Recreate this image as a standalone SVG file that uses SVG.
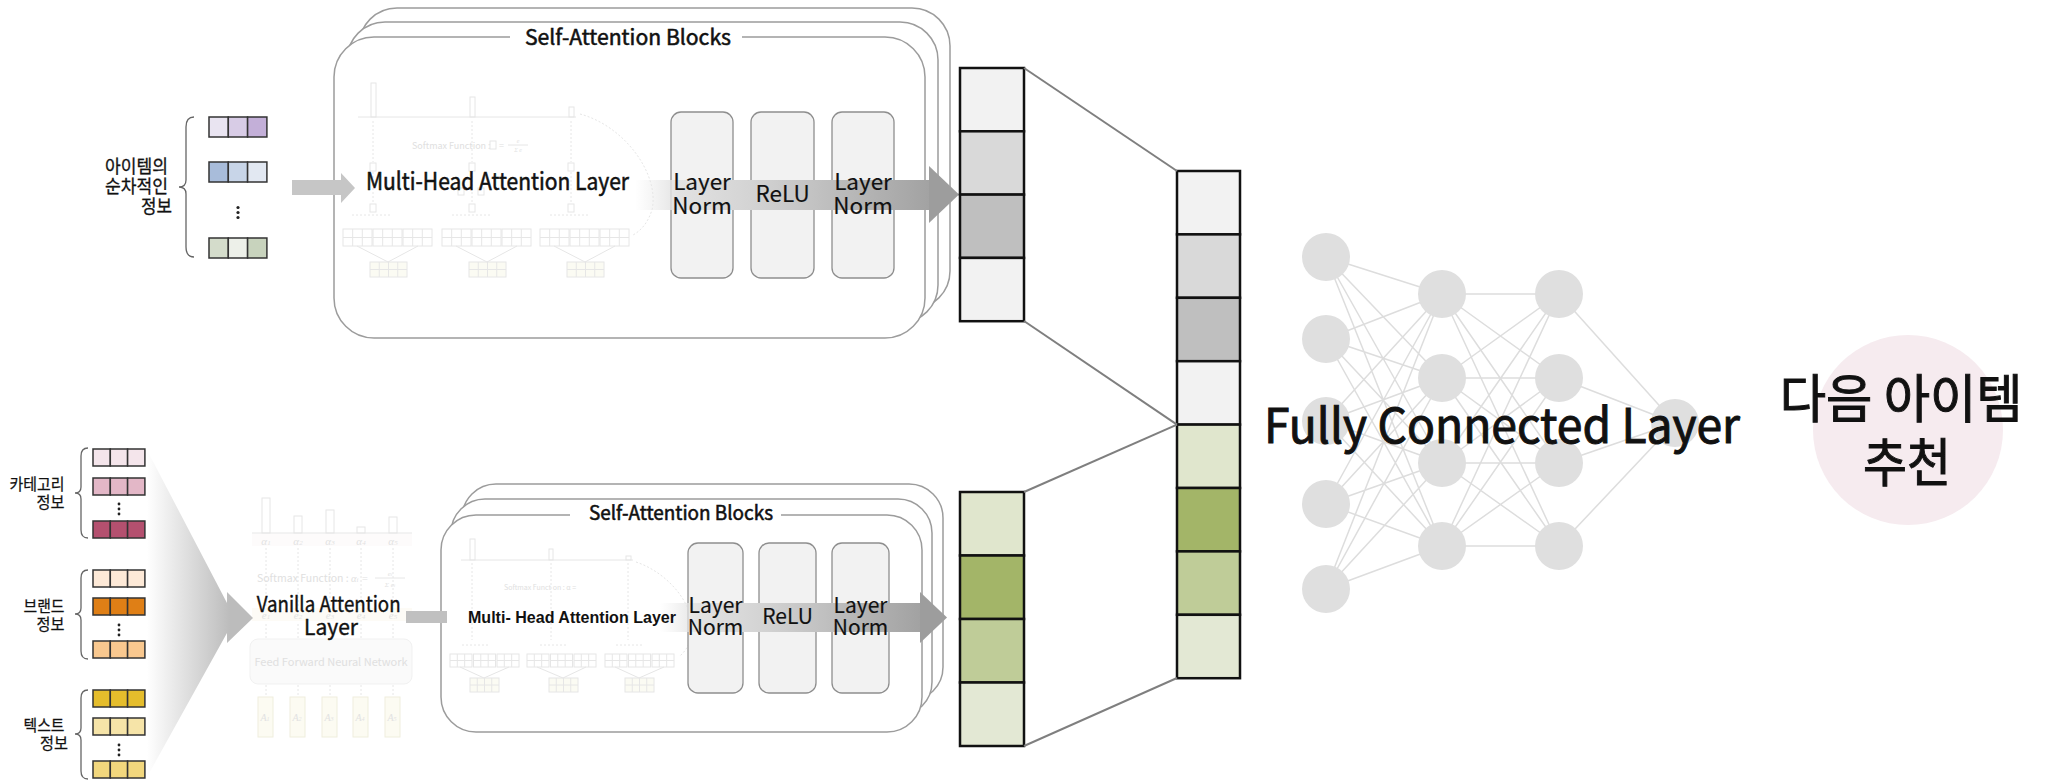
<svg xmlns="http://www.w3.org/2000/svg" width="2045" height="780" viewBox="0 0 2045 780">
  <style>
    .t{font-family:"Noto Sans CJK KR","Noto Sans",sans-serif;fill:#111;stroke:#111;stroke-width:0.55}
    .big{stroke-width:1}
    .lbl{stroke-width:0.15}
    .card{fill:#fff;stroke:#9c9c9c;stroke-width:1.5}
    .box{fill:#f2f2f2;stroke:#8e8e8e;stroke-width:1.3}
    .cell{stroke:#111;stroke-width:2.5}
    .vc{stroke:#333;stroke-width:1.5}
    .brace{fill:none;stroke:#666;stroke-width:1.3}
    .dot{fill:#222}
    .faint{fill:none;stroke:#e6e6e6;stroke-width:1}
    .fdash{fill:none;stroke:#e6e6e6;stroke-width:1;stroke-dasharray:2 2}
    .ftext{font-family:"Noto Sans CJK KR","Noto Sans",sans-serif;fill:#e0e0e0}
    .fmath{font-family:"Liberation Serif",serif;font-style:italic;fill:#e2e2e2}
    .conn{stroke:#7f7f7f;stroke-width:2;fill:none}
    .nn{stroke:#dddddd;stroke-width:1.5}
    .neuron{fill:#dfdfdf}
  </style>
  <defs>
    <linearGradient id="flowTop" gradientUnits="userSpaceOnUse" x1="635" y1="0" x2="930" y2="0">
      <stop offset="0" stop-color="#e8e8e8" stop-opacity="0"/>
      <stop offset="0.15" stop-color="#e2e2e2" stop-opacity="1"/>
      <stop offset="0.4" stop-color="#d3d3d3"/>
      <stop offset="1" stop-color="#a2a2a2"/>
    </linearGradient>
    <linearGradient id="flowBot" gradientUnits="userSpaceOnUse" x1="660" y1="0" x2="920" y2="0">
      <stop offset="0" stop-color="#e8e8e8" stop-opacity="0"/>
      <stop offset="0.15" stop-color="#e2e2e2" stop-opacity="1"/>
      <stop offset="0.4" stop-color="#d3d3d3"/>
      <stop offset="1" stop-color="#a2a2a2"/>
    </linearGradient>
    <linearGradient id="funnel" gradientUnits="userSpaceOnUse" x1="147" y1="0" x2="230" y2="0">
      <stop offset="0" stop-color="#ffffff"/>
      <stop offset="1" stop-color="#bcbcbc"/>
    </linearGradient>
    <g id="gridA"><rect width="29" height="17"/><path d="M9.7 0V17M19.3 0V17M0 8.5H29"/></g>
    <g id="gridS"><rect width="37" height="15" fill="#fbfbf3"/><path d="M9.25 0V15M18.5 0V15M27.75 0V15M0 7.5H37"/></g>
    <g id="gridB"><rect width="22" height="13"/><path d="M7.3 0V13M14.7 0V13M0 6.5H22"/></g>
    <g id="gridT"><rect width="29" height="14" fill="#fbfbf3"/><path d="M7.25 0V14M14.5 0V14M21.75 0V14M0 7H29"/></g>
  </defs>

  <rect width="2045" height="780" fill="#fff"/>

  <!-- sequential item input -->
  <g id="item-seq">
    <text class="t" font-size="18" text-anchor="end" style="stroke-width:0.3">
      <tspan x="172" y="173" textLength="63" lengthAdjust="spacingAndGlyphs">아이템의</tspan>
      <tspan x="172" y="193" textLength="63" lengthAdjust="spacingAndGlyphs">순차적인</tspan>
      <tspan x="172" y="213" textLength="31" lengthAdjust="spacingAndGlyphs">정보</tspan>
    </text>
    <path class="brace" d="M194 117Q186 117 186 127V180Q186 187 179 187Q186 187 186 194V247Q186 257 194 257"/>
    <g class="vc">
      <rect x="209" y="117" width="19.3" height="20" fill="#e9e4f1"/>
      <rect x="228.3" y="117" width="19.3" height="20" fill="#d8cce6"/>
      <rect x="247.6" y="117" width="19.3" height="20" fill="#c3afd8"/>
      <rect x="209" y="162" width="19.3" height="20" fill="#a8bcda"/>
      <rect x="228.3" y="162" width="19.3" height="20" fill="#c8d5e8"/>
      <rect x="247.6" y="162" width="19.3" height="20" fill="#e2e8f2"/>
      <rect x="209" y="238" width="19.3" height="20" fill="#d4dccb"/>
      <rect x="228.3" y="238" width="19.3" height="20" fill="#edf0e9"/>
      <rect x="247.6" y="238" width="19.3" height="20" fill="#c8d3bd"/>
    </g>
    <circle class="dot" cx="238" cy="207.5" r="1.6"/>
    <circle class="dot" cx="238" cy="212.5" r="1.6"/>
    <circle class="dot" cx="238" cy="217.5" r="1.6"/>
  </g>

  <!-- upper self-attention block stack -->
  <g id="sa-top">
    <rect class="card" x="359" y="8" width="591" height="301" rx="38"/>
    <rect class="card" x="347" y="22" width="591" height="301" rx="38"/>
    <rect class="card" x="334" y="37" width="591" height="301" rx="40"/>
    <rect x="510" y="27" width="232" height="22" fill="#fff"/>
    <text class="t" x="525" y="45" font-size="21" textLength="206" lengthAdjust="spacingAndGlyphs">Self-Attention Blocks</text>
    <!-- faded attention internals -->
    <g class="faint">
      <rect x="371" y="83" width="5" height="34"/>
      <rect x="470" y="97" width="5" height="20"/>
      <rect x="569" y="107" width="5" height="10"/>
      <path d="M358 117H576"/>
      <rect x="370" y="163" width="6" height="8"/>
      <rect x="469" y="163" width="6" height="8"/>
      <rect x="568" y="163" width="6" height="8"/>
      <rect x="370" y="204" width="6" height="8"/>
      <rect x="469" y="204" width="6" height="8"/>
      <rect x="568" y="204" width="6" height="8"/>
      <rect x="458" y="188" width="6" height="7"/>
      <rect x="478" y="188" width="6" height="7"/>
      <use href="#gridA" x="343" y="229"/>
      <use href="#gridA" x="373" y="229"/>
      <use href="#gridA" x="403" y="229"/>
      <use href="#gridA" x="442" y="229"/>
      <use href="#gridA" x="472" y="229"/>
      <use href="#gridA" x="502" y="229"/>
      <use href="#gridA" x="540" y="229"/>
      <use href="#gridA" x="570" y="229"/>
      <use href="#gridA" x="600" y="229"/>
      <use href="#gridS" x="370" y="262"/>
      <use href="#gridS" x="469" y="262"/>
      <use href="#gridS" x="567" y="262"/>
      <path d="M357 246L388 262M418 246L388 262M456 246L487 262M517 246L487 262M554 246L585 262M615 246L585 262"/>
    </g>
    <path class="fdash" d="M373 121V162M472 121V162M571 121V162M373 172V203M472 172V203M571 172V203M352 215H392M452 215H492M550 215H590"/>
    <path class="fdash" d="M580 114C625 126 660 175 652 210C648 222 642 230 633 235" stroke-dasharray="4 3"/>
    <text class="ftext" x="412" y="149" font-size="9">Softmax Function :</text>
    <rect class="faint" x="490" y="141" width="6" height="8"/>
    <text class="ftext" x="499" y="149" font-size="9">=</text>
    <path class="faint" d="M508 145H528"/>
    <text class="fmath" x="518" y="143" font-size="6" text-anchor="middle">e</text>
    <text class="fmath" x="518" y="152" font-size="6" text-anchor="middle">Σ e</text>

    <text class="t" x="366" y="190" font-size="24" textLength="263" lengthAdjust="spacingAndGlyphs">Multi-Head Attention Layer</text>

    <g id="top-ln1"><rect class="box" x="671" y="112" width="62" height="166" rx="10"/></g>
    <g id="top-relu"><rect class="box" x="751" y="112" width="63" height="166" rx="10"/></g>
    <g id="top-ln2"><rect class="box" x="832" y="112" width="62" height="166" rx="10"/></g>
    <!-- flow through the block -->
    <rect x="635" y="180" width="295" height="30" fill="url(#flowTop)"/>
    <polygon points="929,166 959,194.5 929,223" fill="#9d9d9d"/>
    <text class="t lbl" font-size="22.5" text-anchor="middle"><tspan x="702" y="190">Layer</tspan><tspan x="702" y="214">Norm</tspan></text>
    <text class="t lbl" x="782.5" y="202" font-size="22.5" text-anchor="middle">ReLU</text>
    <text class="t lbl" font-size="22.5" text-anchor="middle"><tspan x="863" y="190">Layer</tspan><tspan x="863" y="214">Norm</tspan></text>
  </g>

  <!-- attribute inputs -->
  <g id="attr-inputs">
    <text class="t" font-size="15.5" text-anchor="end" style="stroke-width:0.25">
      <tspan x="68" y="490" textLength="55" lengthAdjust="spacingAndGlyphs">카테고리</tspan>
      <tspan x="68" y="508" textLength="28" lengthAdjust="spacingAndGlyphs">정보</tspan>
      <tspan x="68" y="612" textLength="41" lengthAdjust="spacingAndGlyphs">브랜드</tspan>
      <tspan x="68" y="630" textLength="28" lengthAdjust="spacingAndGlyphs">정보</tspan>
      <tspan x="68" y="731" textLength="41" lengthAdjust="spacingAndGlyphs">텍스트</tspan>
      <tspan x="68" y="749" textLength="28" lengthAdjust="spacingAndGlyphs">정보</tspan>
    </text>
    <path class="brace" d="M88 448Q81 448 81 456V487Q81 493 75 493Q81 493 81 499V530Q81 538 88 538"/>
    <path class="brace" d="M88 570Q81 570 81 578V608Q81 614 75 614Q81 614 81 620V651Q81 659 88 659"/>
    <path class="brace" d="M88 690Q81 690 81 698V728Q81 734 75 734Q81 734 81 740V771Q81 779 88 779"/>
    <g class="vc">
      <rect x="93" y="449" width="17.3" height="17" fill="#f4e5eb"/>
      <rect x="110.3" y="449" width="17.3" height="17" fill="#f4e5eb"/>
      <rect x="127.6" y="449" width="17.3" height="17" fill="#f4e5eb"/>
      <rect x="93" y="478" width="17.3" height="17" fill="#e3b7c7"/>
      <rect x="110.3" y="478" width="17.3" height="17" fill="#e3b7c7"/>
      <rect x="127.6" y="478" width="17.3" height="17" fill="#e3b7c7"/>
      <rect x="93" y="521" width="17.3" height="17" fill="#b4506f"/>
      <rect x="110.3" y="521" width="17.3" height="17" fill="#b4506f"/>
      <rect x="127.6" y="521" width="17.3" height="17" fill="#b4506f"/>

      <rect x="93" y="570" width="17.3" height="17" fill="#fde9d7"/>
      <rect x="110.3" y="570" width="17.3" height="17" fill="#fde9d7"/>
      <rect x="127.6" y="570" width="17.3" height="17" fill="#fde9d7"/>
      <rect x="93" y="598" width="17.3" height="17" fill="#df7f16"/>
      <rect x="110.3" y="598" width="17.3" height="17" fill="#df7f16"/>
      <rect x="127.6" y="598" width="17.3" height="17" fill="#df7f16"/>
      <rect x="93" y="641" width="17.3" height="17" fill="#f9c88f"/>
      <rect x="110.3" y="641" width="17.3" height="17" fill="#f9c88f"/>
      <rect x="127.6" y="641" width="17.3" height="17" fill="#f9c88f"/>

      <rect x="93" y="690" width="17.3" height="17" fill="#e5bd2c"/>
      <rect x="110.3" y="690" width="17.3" height="17" fill="#e5bd2c"/>
      <rect x="127.6" y="690" width="17.3" height="17" fill="#e5bd2c"/>
      <rect x="93" y="718" width="17.3" height="17" fill="#f6e4a8"/>
      <rect x="110.3" y="718" width="17.3" height="17" fill="#f6e4a8"/>
      <rect x="127.6" y="718" width="17.3" height="17" fill="#f6e4a8"/>
      <rect x="93" y="761" width="17.3" height="17" fill="#f2d77d"/>
      <rect x="110.3" y="761" width="17.3" height="17" fill="#f2d77d"/>
      <rect x="127.6" y="761" width="17.3" height="17" fill="#f2d77d"/>
    </g>
    <circle class="dot" cx="119" cy="504" r="1.4"/>
    <circle class="dot" cx="119" cy="509" r="1.4"/>
    <circle class="dot" cx="119" cy="514" r="1.4"/>
    <circle class="dot" cx="119" cy="625" r="1.4"/>
    <circle class="dot" cx="119" cy="630" r="1.4"/>
    <circle class="dot" cx="119" cy="635" r="1.4"/>
    <circle class="dot" cx="119" cy="745" r="1.4"/>
    <circle class="dot" cx="119" cy="750" r="1.4"/>
    <circle class="dot" cx="119" cy="755" r="1.4"/>
  </g>

  <!-- vanilla attention layer -->
  <g id="vanilla-attn">
    <g class="faint">
      <rect x="262" y="498" width="8" height="35"/>
      <rect x="294" y="516" width="8" height="17"/>
      <rect x="326" y="510" width="8" height="23"/>
      <rect x="357" y="527" width="8" height="6"/>
      <rect x="389" y="517" width="8" height="16"/>
      <path d="M252 533H412"/>
    </g>
    <rect x="252" y="534" width="160" height="12" fill="#fdfbfb"/>
    <g class="fmath" font-size="11" text-anchor="middle">
      <text x="266" y="545">α<tspan font-size="7">1</tspan></text>
      <text x="298" y="545">α<tspan font-size="7">2</tspan></text>
      <text x="330" y="545">α<tspan font-size="7">3</tspan></text>
      <text x="361" y="545">α<tspan font-size="7">4</tspan></text>
      <text x="393" y="545">α<tspan font-size="7">5</tspan></text>
    </g>
    <path class="fdash" d="M266 548V606M298 548V606M330 548V606M361 548V606M393 548V606M266 624V638M298 624V638M330 624V638M361 624V638M393 624V638M266 685V697M298 685V697M330 685V697M361 685V697M393 685V697"/>
    <text class="ftext" x="257" y="582" font-size="10.5">Softmax Function : <tspan class="fmath">α<tspan font-size="7">i</tspan> =</tspan></text>
    <path class="faint" d="M375 578H405"/>
    <text class="fmath" x="390" y="576" font-size="7" text-anchor="middle">e<tspan font-size="5">i</tspan></text>
    <text class="fmath" x="390" y="587" font-size="7" text-anchor="middle">Σ e<tspan font-size="5">i</tspan></text>
    <rect x="252" y="608" width="160" height="13" fill="#fdfbf6"/>
    <g class="fmath" font-size="11" text-anchor="middle">
      <text x="266" y="619">e<tspan font-size="7">1</tspan></text>
      <text x="298" y="619">e<tspan font-size="7">2</tspan></text>
      <text x="330" y="619">e<tspan font-size="7">3</tspan></text>
      <text x="361" y="619">e<tspan font-size="7">4</tspan></text>
      <text x="393" y="619">e<tspan font-size="7">5</tspan></text>
    </g>
    <rect x="250" y="639" width="162" height="45" rx="8" fill="#fafafa" stroke="#f1f1f1"/>
    <text class="ftext" x="331" y="666" font-size="11" text-anchor="middle">Feed Forward Neural Network</text>
    <g fill="#fcfbf2" stroke="#efeedd">
      <rect x="258" y="697" width="15" height="40"/>
      <rect x="290" y="697" width="15" height="40"/>
      <rect x="322" y="697" width="15" height="40"/>
      <rect x="353" y="697" width="15" height="40"/>
      <rect x="385" y="697" width="15" height="40"/>
    </g>
    <g class="fmath" font-size="10" text-anchor="middle">
      <text x="265" y="721">A<tspan font-size="6">1</tspan></text>
      <text x="297" y="721">A<tspan font-size="6">2</tspan></text>
      <text x="329" y="721">A<tspan font-size="6">3</tspan></text>
      <text x="360" y="721">A<tspan font-size="6">4</tspan></text>
      <text x="392" y="721">A<tspan font-size="6">5</tspan></text>
    </g>
    <text class="t" font-size="21" text-anchor="middle" style="stroke-width:0.4">
      <tspan x="331" y="612" textLength="144" lengthAdjust="spacingAndGlyphs">Vanilla Attention</tspan>
      <tspan x="331" y="635">Layer</tspan>
    </text>
  </g>

  <!-- lower self-attention block stack -->
  <g id="sa-bottom">
    <rect class="card" x="462" y="484" width="481" height="217" rx="34"/>
    <rect class="card" x="451" y="499" width="481" height="217" rx="34"/>
    <rect class="card" x="441" y="515" width="481" height="217" rx="35"/>
    <rect x="570" y="503" width="211" height="22" fill="#fff"/>
    <text class="t" x="589" y="520" font-size="19.5" textLength="184" lengthAdjust="spacingAndGlyphs">Self-Attention Blocks</text>
    <g class="faint">
      <rect x="470" y="539" width="5" height="21"/>
      <rect x="549" y="549" width="4" height="11"/>
      <rect x="626" y="556" width="5" height="4"/>
      <path d="M461 560H633"/>
      <use href="#gridB" x="450" y="654"/>
      <use href="#gridB" x="473.5" y="654"/>
      <use href="#gridB" x="497" y="654"/>
      <use href="#gridB" x="527" y="654"/>
      <use href="#gridB" x="550.5" y="654"/>
      <use href="#gridB" x="574" y="654"/>
      <use href="#gridB" x="605" y="654"/>
      <use href="#gridB" x="628.5" y="654"/>
      <use href="#gridB" x="652" y="654"/>
      <use href="#gridT" x="470" y="678"/>
      <use href="#gridT" x="549" y="678"/>
      <use href="#gridT" x="625" y="678"/>
      <path d="M460 667L484 678M509 667L484 678M537 667L563 678M586 667L563 678M615 667L639 678M664 667L639 678"/>
    </g>
    <path class="fdash" d="M472 563V640M551 563V640M628 563V640M462 645H490M540 645H568M616 645H644"/>
    <path class="fdash" d="M636 562C672 574 700 612 690 640C688 648 684 652 680 656" stroke-dasharray="4 3"/>
    <text class="ftext" x="504" y="590" font-size="7">Softmax Funct on : α = </text>

    <g id="bot-ln1"><rect class="box" x="688" y="543" width="55" height="150" rx="10"/></g>
    <g id="bot-relu"><rect class="box" x="759" y="543" width="57" height="150" rx="10"/></g>
    <g id="bot-ln2"><rect class="box" x="832" y="543" width="57" height="150" rx="10"/></g>
    <rect x="660" y="603" width="261" height="29" fill="url(#flowBot)"/>
    <polygon points="920,592 947,617.5 920,643" fill="#9d9d9d"/>
    <text x="468" y="623" font-size="17" font-weight="bold" textLength="208" lengthAdjust="spacingAndGlyphs" style="font-family:'Liberation Sans',Arial,sans-serif;fill:#111">Multi- Head Attention Layer</text>
    <text class="t lbl" font-size="21" text-anchor="middle"><tspan x="715.5" y="613">Layer</tspan><tspan x="715.5" y="635">Norm</tspan></text>
    <text class="t lbl" x="787.5" y="624" font-size="21" text-anchor="middle">ReLU</text>
    <text class="t lbl" font-size="21" text-anchor="middle"><tspan x="860.5" y="613">Layer</tspan><tspan x="860.5" y="635">Norm</tspan></text>
  </g>

  <!-- block outputs -->
  <g id="out-top" class="cell">
    <rect x="960" y="68" width="64" height="63.3" fill="#f2f2f2"/>
    <rect x="960" y="131.3" width="64" height="63.3" fill="#d9d9d9"/>
    <rect x="960" y="194.6" width="64" height="63.3" fill="#bfbfbf"/>
    <rect x="960" y="257.9" width="64" height="63.3" fill="#f2f2f2"/>
  </g>
  <g id="out-bottom" class="cell">
    <rect x="960" y="492" width="64" height="63.5" fill="#e0e6cd"/>
    <rect x="960" y="555.5" width="64" height="63.5" fill="#a3b568"/>
    <rect x="960" y="619" width="64" height="63.5" fill="#bfcc98"/>
    <rect x="960" y="682.5" width="64" height="63.5" fill="#e3e8d4"/>
  </g>

  <!-- concatenated vector -->
  <g id="concat" class="cell">
    <rect x="1177" y="171" width="63" height="63.4" fill="#f2f2f2"/>
    <rect x="1177" y="234.4" width="63" height="63.4" fill="#d9d9d9"/>
    <rect x="1177" y="297.8" width="63" height="63.4" fill="#bfbfbf"/>
    <rect x="1177" y="361.2" width="63" height="63.4" fill="#f2f2f2"/>
    <rect x="1177" y="424.6" width="63" height="63.4" fill="#e0e6cd"/>
    <rect x="1177" y="488" width="63" height="63.4" fill="#a3b568"/>
    <rect x="1177" y="551.4" width="63" height="63.4" fill="#bfcc98"/>
    <rect x="1177" y="614.8" width="63" height="63.4" fill="#e3e8d4"/>
  </g>

  <!-- connectors -->
  <g id="connectors">
    <polygon points="292,180 341,180 341,173 355,188 341,203 341,195 292,195" fill="#c6c6c6"/>
    <polygon points="147,450 227,603 227,592 253,618 227,643 227,633 147,777" fill="url(#funnel)"/>
    <rect x="406" y="611" width="41" height="12" fill="#c0c0c0"/>
    <line class="conn" x1="1024" y1="68" x2="1177" y2="171"/>
    <line class="conn" x1="1024" y1="321" x2="1177" y2="424.6"/>
    <line class="conn" x1="1024" y1="492" x2="1177" y2="424.6"/>
    <line class="conn" x1="1024" y1="746" x2="1177" y2="678"/>
  </g>

  <!-- fully connected network -->
  <g id="fc-layer">
    <g class="nn">
      <path d="M1326 257L1442 294M1326 257L1442 378M1326 257L1442 463M1326 257L1442 546
               M1326 339L1442 294M1326 339L1442 378M1326 339L1442 463M1326 339L1442 546
               M1326 421L1442 294M1326 421L1442 378M1326 421L1442 463M1326 421L1442 546
               M1326 504L1442 294M1326 504L1442 378M1326 504L1442 463M1326 504L1442 546
               M1326 589L1442 294M1326 589L1442 378M1326 589L1442 463M1326 589L1442 546"/>
      <path d="M1442 294L1559 294M1442 294L1559 378M1442 294L1559 463M1442 294L1559 546
               M1442 378L1559 294M1442 378L1559 378M1442 378L1559 463M1442 378L1559 546
               M1442 463L1559 294M1442 463L1559 378M1442 463L1559 463M1442 463L1559 546
               M1442 546L1559 294M1442 546L1559 378M1442 546L1559 463M1442 546L1559 546"/>
      <path d="M1559 294L1675 423M1559 378L1675 423M1559 463L1675 423M1559 546L1675 423"/>
    </g>
    <g class="neuron">
      <circle cx="1326" cy="257" r="24"/>
      <circle cx="1326" cy="339" r="24"/>
      <circle cx="1326" cy="421" r="24"/>
      <circle cx="1326" cy="504" r="24"/>
      <circle cx="1326" cy="589" r="24"/>
      <circle cx="1442" cy="294" r="24"/>
      <circle cx="1442" cy="378" r="24"/>
      <circle cx="1442" cy="463" r="24"/>
      <circle cx="1442" cy="546" r="24"/>
      <circle cx="1559" cy="294" r="24"/>
      <circle cx="1559" cy="378" r="24"/>
      <circle cx="1559" cy="463" r="24"/>
      <circle cx="1559" cy="546" r="24"/>
      <circle cx="1675" cy="423" r="24"/>
    </g>
    <text class="t big" x="1264" y="443" font-size="48" textLength="476" lengthAdjust="spacingAndGlyphs">Fully Connected Layer</text>
  </g>

  <!-- recommendation output -->
  <g id="next-item">
    <circle cx="1908" cy="430" r="95" fill="#f6ebef"/>
    <text class="t big" font-size="52" text-anchor="middle">
      <tspan x="1907" y="418" textLength="243" lengthAdjust="spacingAndGlyphs">다음 아이템</tspan>
      <tspan x="1907" y="482" textLength="88" lengthAdjust="spacingAndGlyphs">추천</tspan>
    </text>
  </g>
</svg>
